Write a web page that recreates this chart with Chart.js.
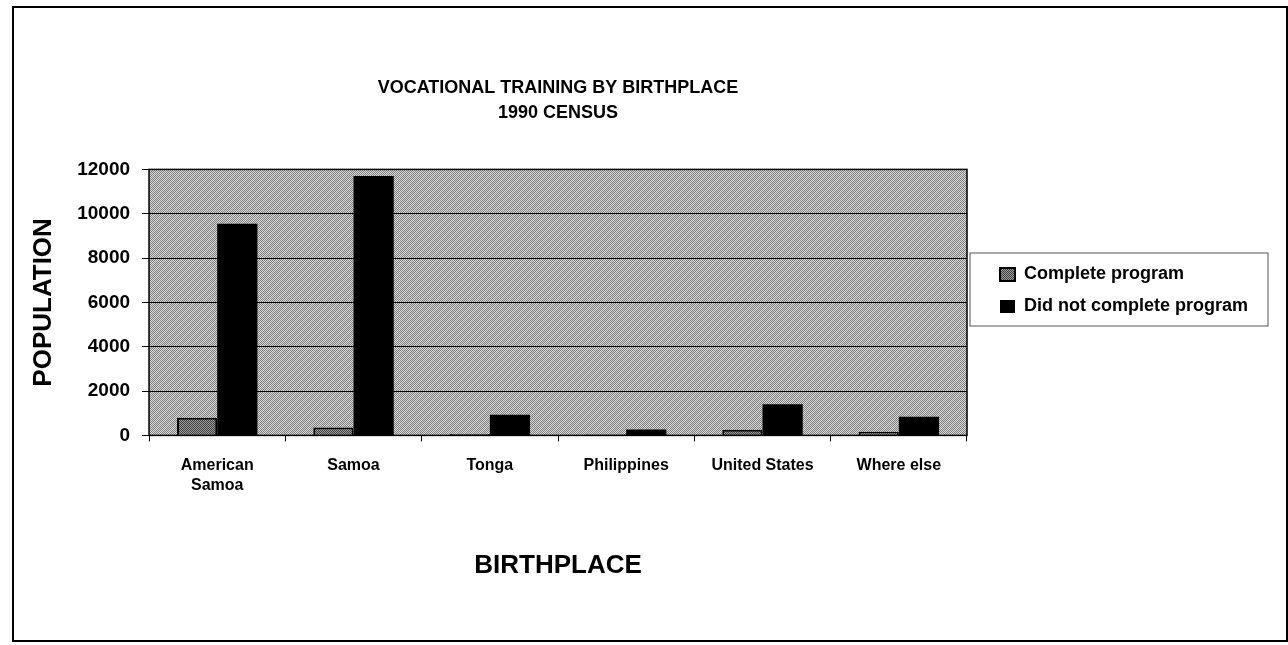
<!DOCTYPE html>
<html>
<head>
<meta charset="utf-8">
<script src="https://cdn.jsdelivr.net/npm/chart.js@4/dist/chart.umd.min.js"></script>
<style>
  body { margin: 0; background: #fff; }
  #wrap { position: relative; width: 1288px; height: 645px; }
  #frame { position: absolute; left: 12px; top: 6px; width: 1272px; height: 632px;
           border: 2px solid #000; pointer-events: none; }
</style>
</head>
<body>
<div id="wrap">
  <canvas id="chartBirth" width="1288" height="645"></canvas>
  <div id="frame"></div>
</div>
<script>
// values
const birthplaces = [["American", "Samoa"], "Samoa", "Tonga", "Philippines", "United States", "Where else"];
const completeProgram = [800, 360, 60, 40, 250, 160];
const didNotComplete = [9550, 11700, 930, 270, 1400, 840];
const titleLines = ["VOCATIONAL TRAINING BY BIRTHPLACE", "1990 CENSUS"];
const seriesNames = ["Complete program", "Did not complete program"];

const FONT = "Arial, 'Liberation Sans', sans-serif";

/*small dithered tiles to mimic the photocopied fills*/
function makePattern(light, dark, stripe) {
    var c = document.createElement("canvas");
    c.width = 8; c.height = 8;
    var p = c.getContext("2d");
    for (var y = 0; y < 8; y++) {
        for (var x = 0; x < 8; x++) {
            p.fillStyle = ((x + y) % 2 == 0) ? dark : light;
            if (stripe && (x + y) % 8 == 0) { p.fillStyle = stripe; }
            p.fillRect(x, y, 1, 1);
        }
    }
    return p.createPattern(c, "repeat");
}
var ctx = document.getElementById("chartBirth").getContext("2d");
var plotFill = makePattern("#dadada", "#7a7a7a", "#8c8c8c");
var barFill = makePattern("#a0a0a0", "#3c3c3c", null);

const plotBackground = {
    id: "plotBackground",
    beforeDraw(chart) {
        var a = chart.chartArea, c = chart.ctx;
        c.save();
        c.fillStyle = plotFill;
        c.fillRect(a.left, a.top, a.right - a.left, a.bottom - a.top);
        c.restore();
    },
    afterDatasetsDraw(chart) {
        var a = chart.chartArea, c = chart.ctx;
        c.save();
        c.strokeStyle = "#000";
        c.lineWidth = 1.5;
        c.strokeRect(a.left, a.top, a.right - a.left, a.bottom - a.top);
        c.restore();
    }
};

//legend sits in a wide framed box, so stretch it and nudge the items
const legendBox = {
    id: "legendBox",
    afterInit(chart) {
        var lg = chart.legend;
        var fit = lg.fit, draw = lg.draw;
        lg.fit = function () { fit.call(this); this.width = 300; };
        lg.draw = function () {
            var c = this.ctx;
            c.save();
            c.strokeStyle = "#555";
            c.lineWidth = 1;
            c.strokeRect(this.left + 3, 253, 298, 73);
            c.translate(19, -5);
            draw.call(this);
            c.restore();
        };
    }
};

var chartBirth = new Chart(ctx, {
    type: "bar",
    data: {
        labels: birthplaces,
        datasets: [
            {
                label: seriesNames[0],
                data: completeProgram,
                backgroundColor: barFill,
                borderColor: "#000",
                borderWidth: 2,
                borderSkipped: "bottom"
            },
            {
                label: seriesNames[1],
                data: didNotComplete,
                backgroundColor: "#000",
                borderColor: "#000",
                borderWidth: 0
            }
        ]
    },
    options: {
        responsive: false,
        animation: false,
        layout: { padding: { left: 20, right: 21, top: 10, bottom: 64 } },
        categoryPercentage: 0.59,
        barPercentage: 1.0,
        plugins: {
            title: {
                display: true,
                fullSize: false,
                text: titleLines,
                color: "#000",
                font: { family: FONT, size: 18, weight: "bold", lineHeight: 1.4 },
                padding: { top: 65, bottom: 44 }
            },
            legend: {
                position: "right",
                labels: {
                    color: "#000",
                    font: { family: FONT, size: 18, weight: "bold" },
                    boxWidth: 15,
                    boxHeight: 13,
                    padding: 14
                }
            },
            tooltip: { enabled: false }
        },
        scales: {
            x: {
                grid: { display: true, drawOnChartArea: false, drawTicks: true, tickLength: 6, color: "#000" },
                border: { display: false },
                ticks: {
                    color: "#000",
                    padding: 15,
                    maxRotation: 0,
                    font: { family: FONT, size: 16, weight: "bold" }
                },
                title: {
                    display: true,
                    text: "BIRTHPLACE",
                    color: "#000",
                    font: { family: FONT, size: 26, weight: "bold" },
                    padding: { top: 40, bottom: 0 }
                }
            },
            y: {
                min: 0,
                max: 12000,
                grid: { color: "#000", lineWidth: 1, tickLength: 7 },
                border: { display: false },
                ticks: {
                    stepSize: 2000,
                    color: "#000",
                    padding: 12,
                    font: { family: FONT, size: 19, weight: "bold" },
                    callback: function (v) { return String(v); }
                },
                title: {
                    display: true,
                    text: "POPULATION",
                    color: "#000",
                    font: { family: FONT, size: 26, weight: "bold" },
                    padding: { top: 8, bottom: 6 }
                }
            }
        }
    },
    plugins: [plotBackground, legendBox]
});
</script>
</body>
</html>
